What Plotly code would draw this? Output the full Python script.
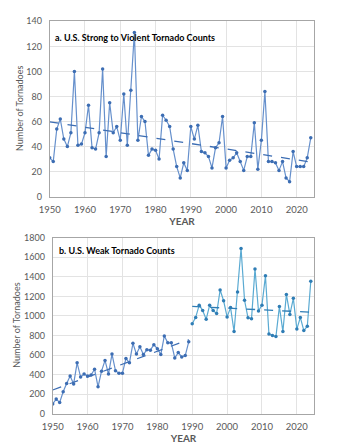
import numpy as np
import plotly.graph_objects as go

years = list(range(1950, 2025))

strong_counts = [31, 28, 54, 62, 46, 40, 51, 100, 41, 42,
                 51, 73, 39, 38, 51, 102, 32, 75, 51, 56,
                 45, 82, 41, 85, 131, 45, 64, 60, 33, 38,
                 37, 30, 65, 61, 56, 38, 24, 15, 27, 21,
                 56, 46, 57, 36, 35, 32, 23, 39, 43, 64,
                 23, 29, 31, 35, 28, 21, 32, 32, 59, 22,
                 45, 84, 28, 28, 27, 21, 28, 15, 12, 36,
                 24, 24, 24, 31, 47]

weak_counts = [100, 150, 115, 225, 310, 385, 305, 520, 375, 405,
               385, 395, 455, 275, 435, 545, 405, 610, 440, 415,
               415, 565, 520, 720, 610, 685, 605, 655, 650, 705,
               665, 605, 795, 725, 725, 570, 625, 580, 595, 735,
               920, 985, 1110, 1055, 965, 1110, 1055, 1025, 1265, 1155,
               990, 1085, 840, 1245, 1690, 1160, 980, 970, 1480, 1050,
               1110, 1410, 815, 800, 790, 1095, 840, 1220, 1015, 1180,
               865, 985, 850, 895, 1355]

split_year = 1990
x_ticks = [1950, 1960, 1970, 1980, 1990, 2000, 2010, 2020]

titles = ["a. U.S. Strong to Violent Tornado Counts", "b. U.S. Weak Tornado Counts"]
y_title = "Number of Tornadoes"
x_title = "YEAR"

FONT = "Lato"
BLUE = "#6690cc"
BLUE_M = "#3c6db3"
TEAL = "#5aaad2"
TEAL_M = "#2f7db5"
GRAY_TXT = "#595959"

def trend(xs, ys):
    c = np.polyfit(xs, ys, 1)
    return [xs[0], xs[-1]], [c[0] * xs[0] + c[1], c[0] * xs[-1] + c[1]]

fig = go.Figure()

# top panel
fig.add_trace(go.Scatter(x=years, y=strong_counts, mode="lines+markers",
                         line=dict(color=BLUE, width=1.2),
                         marker=dict(color=BLUE_M, size=3.5),
                         xaxis="x", yaxis="y", showlegend=False))
tx, ty = trend(years, strong_counts)
fig.add_trace(go.Scatter(x=tx, y=ty, mode="lines",
                         line=dict(color=BLUE_M, width=1.3, dash="dash"),
                         xaxis="x", yaxis="y", showlegend=False))

# bottom panel
y1 = [y for y in years if y < split_year]
v1 = weak_counts[:len(y1)]
y2 = [y for y in years if y >= split_year]
v2 = weak_counts[len(y1):]
fig.add_trace(go.Scatter(x=y1, y=v1, mode="lines+markers",
                         line=dict(color=BLUE, width=1.2),
                         marker=dict(color=BLUE_M, size=3.5),
                         xaxis="x2", yaxis="y2", showlegend=False))
tx, ty = trend(y1, v1)
fig.add_trace(go.Scatter(x=tx, y=ty, mode="lines",
                         line=dict(color=BLUE_M, width=1.3, dash="dash"),
                         xaxis="x2", yaxis="y2", showlegend=False))
fig.add_trace(go.Scatter(x=y2, y=v2, mode="lines+markers",
                         line=dict(color=TEAL, width=1.2),
                         marker=dict(color=TEAL_M, size=3.5),
                         xaxis="x2", yaxis="y2", showlegend=False))
tx, ty = trend(y2, v2)
fig.add_trace(go.Scatter(x=tx, y=ty, mode="lines",
                         line=dict(color=TEAL_M, width=1.3, dash="dash"),
                         xaxis="x2", yaxis="y2", showlegend=False))

axis_common = dict(showline=True, linecolor="#a6a6a6", linewidth=1, mirror=True,
                   gridcolor="#e3e3e3", gridwidth=1, zeroline=False, ticks="",
                   automargin=False)

xtick_font = dict(family=FONT, size=9.5, color=GRAY_TXT)
ytick_font = dict(family=FONT, size=9, color=GRAY_TXT)
xtitle_font = dict(family=FONT, size=10, color=GRAY_TXT)

top_dom = [0.557, 0.952]
bot_dom = [0.0682, 0.4647]

fig.update_layout(
    width=361, height=444,
    margin=dict(l=0, r=0, t=0, b=0),
    paper_bgcolor="white", plot_bgcolor="white",
    font=dict(family=FONT),
    xaxis=dict(domain=[0.1377, 0.8706], range=[1950, 2025], tickvals=x_ticks,
               anchor="y", ticklabelstandoff=4, tickfont=xtick_font,
               title=dict(text="<b>" + x_title + "</b>", font=xtitle_font, standoff=2),
               **axis_common),
    yaxis=dict(domain=top_dom, range=[0, 140], dtick=20, anchor="x",
               ticklabelstandoff=5, tickfont=ytick_font, **axis_common),
    xaxis2=dict(domain=[0.146, 0.8706], range=[1950, 2025], tickvals=x_ticks,
                anchor="y2", ticklabelstandoff=4, tickfont=xtick_font,
                title=dict(text="<b>" + x_title + "</b>", font=xtitle_font, standoff=2),
                **axis_common),
    yaxis2=dict(domain=bot_dom, range=[0, 1800], dtick=200, anchor="x2",
                ticklabelstandoff=5, tickfont=ytick_font, **axis_common),
    annotations=[
        dict(text="<b>" + titles[0] + "</b>", xref="x domain", yref="y domain",
             x=0.011, y=0.906, xanchor="left", yanchor="middle", showarrow=False,
             font=dict(family=FONT, size=9, color="black")),
        dict(text="<b>" + titles[1] + "</b>", xref="x2 domain", yref="y2 domain",
             x=0.016, y=0.928, xanchor="left", yanchor="middle", showarrow=False,
             font=dict(family=FONT, size=9, color="black")),
        dict(text=y_title, xref="paper", yref="paper", x=19 / 361,
             y=sum(top_dom) / 2, textangle=-90, xanchor="center", yanchor="middle",
             showarrow=False, font=dict(family=FONT, size=9, color=GRAY_TXT)),
        dict(text=y_title, xref="paper", yref="paper", x=17 / 361,
             y=sum(bot_dom) / 2, textangle=-90, xanchor="center", yanchor="middle",
             showarrow=False, font=dict(family=FONT, size=9, color=GRAY_TXT)),
    ],
)

fig.write_html("out.html", config={"displayModeBar": False},
               post_script="document.body.style.margin='0';document.body.style.overflow='hidden';")
